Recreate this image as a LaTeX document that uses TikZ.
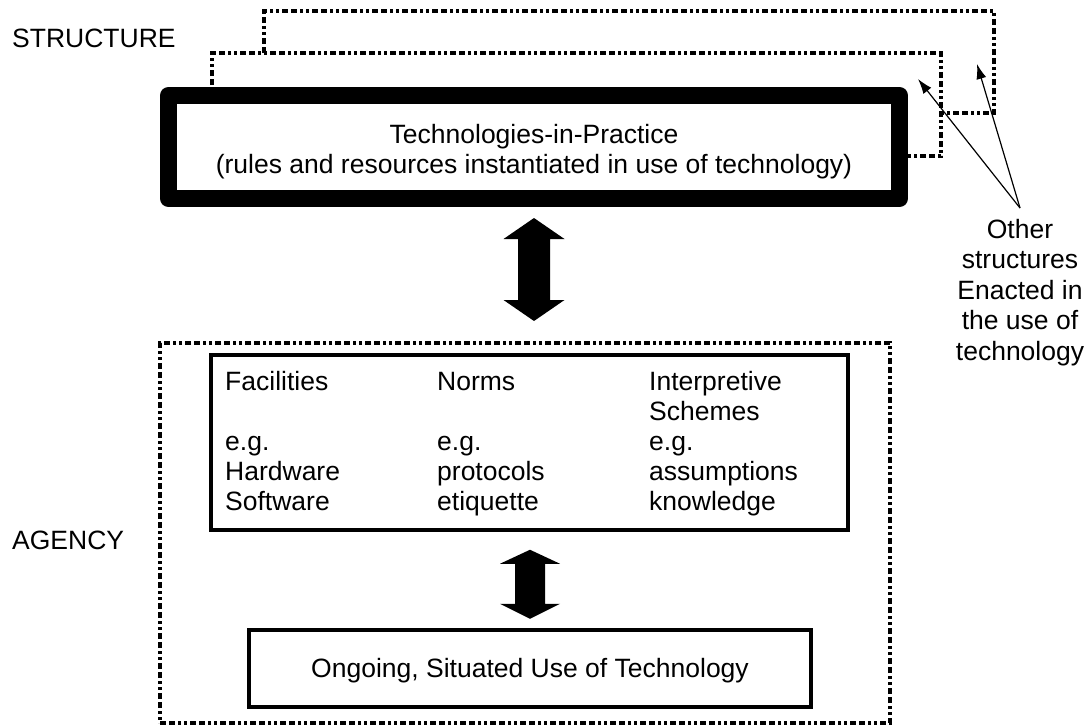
\documentclass[tikz,border=0pt]{standalone}
\usepackage{fontspec}
\setmainfont{Liberation Sans}
\usetikzlibrary{arrows.meta,calc}
\tikzset{
  body/.style={font=\fontsize{26.5}{30}\selectfont, inner sep=0pt},
  solidbox/.style={draw, line width=3.5pt},
  dashframe/.style={line width=3.5pt,
    dash pattern=on 6pt off 3pt on 6pt off 3pt on 3pt off 3pt on 3pt off 3pt},
  heavybox/.style={draw, line width=17pt, line join=round,
    minimum width=731pt, minimum height=103pt, align=center},
  blockarrow/.style={fill=black},
  pointer/.style={line width=1.2pt, -{Latex[length=15pt,width=10pt]}},
}
\begin{document}
\begin{tikzpicture}[x=1pt,y=-1pt]
\useasboundingbox (0,0) rectangle (1089,725);

% further structures stacked behind the main one
\draw[dashframe] (264,53) -- (264,11) -- (994,11) -- (994,113) -- (941,113);
\draw[dashframe] (212,85) -- (212,53) -- (941,53) -- (941,156) -- (908,156);

% structure level
\node[body, anchor=base west] (structure) at (12,48) {STRUCTURE};
\node[heavybox, body] (tip) at (534,147)
  {\rule{0pt}{28pt}Technologies-in-Practice\\(rules and resources instantiated in use of technology)};

% agency level
\node[body, anchor=base west] (agencylabel) at (12,549) {AGENCY};
\node[draw, dashframe, minimum width=730pt, minimum height=380pt] (agency) at (525,533) {};
\node[solidbox, minimum width=637pt, minimum height=175pt] (means) at (529.5,442.5) {};
\node[body, anchor=north west, text width=200pt, align=left] (facilities) at (225,369)
  {\strut Facilities\\\strut\\\strut e.g.\\\strut Hardware\\\strut Software};
\node[body, anchor=north west, text width=200pt, align=left] (norms) at (437,369)
  {\strut Norms\\\strut\\\strut e.g.\\\strut protocols\\\strut etiquette};
\node[body, anchor=north west, text width=200pt, align=left] (schemes) at (649,369)
  {\strut Interpretive\\\strut Schemes\\\strut e.g.\\\strut assumptions\\\strut knowledge};
\node[solidbox, body, minimum width=562pt, minimum height=77pt] (use) at (530,668.5)
  {\rule[-9pt]{0pt}{35pt}Ongoing, Situated Use of Technology};

% two-headed block arrows
\coordinate (a1) at ($(tip.south)+(0,11)$);
\fill[blockarrow, shift={(a1)}] (0,0) -- (30.5,21) -- (16,21) -- (16,82) -- (30.5,82)
  -- (0,103) -- (-30.5,82) -- (-16,82) -- (-16,21) -- (-30.5,21) -- cycle;
\coordinate (a2) at ($(means.south)+(0.5,18)$);
\fill[blockarrow, shift={(a2)}] (0,0) -- (30,14) -- (15,14) -- (15,54) -- (30,54)
  -- (0,69) -- (-30,54) -- (-15,54) -- (-15,14) -- (-30,14) -- cycle;

% note on the other enacted structures
\node[body, font=\fontsize{26.5}{30.5}\selectfont, align=center, inner ysep=8.5pt, anchor=north]
  (other) at (1020,208) {\strut Other\\structures\\Enacted in\\the use of\\technology};
\coordinate (o1) at (918,79);
\coordinate (o2) at (977,64);
\draw[pointer] (other.north) -- (o1);
\draw[pointer] (other.north) -- (o2);
\end{tikzpicture}
\end{document}
